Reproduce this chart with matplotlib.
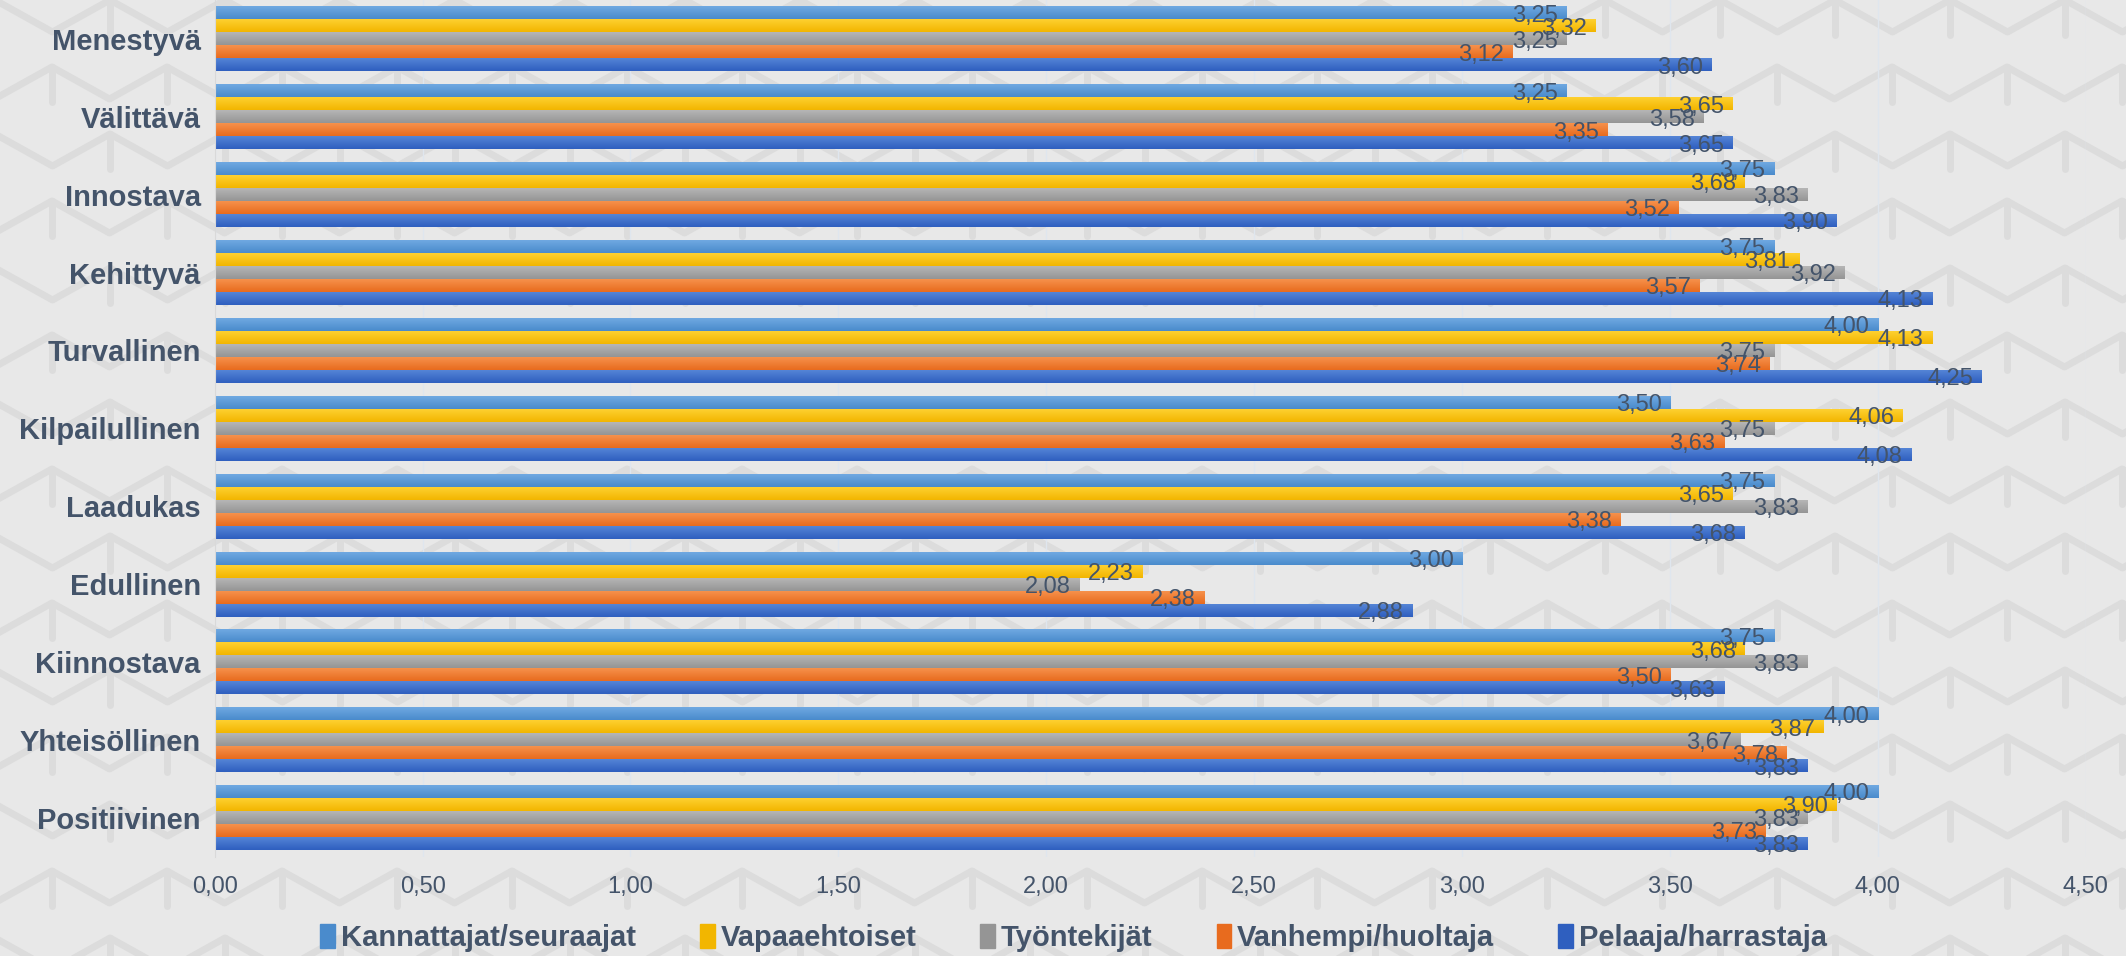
import numpy as np
import matplotlib.pyplot as plt
from matplotlib.colors import LinearSegmentedColormap

categories = ["Menestyvä", "Välittävä", "Innostava", "Kehittyvä", "Turvallinen",
              "Kilpailullinen", "Laadukas", "Edullinen", "Kiinnostava",
              "Yhteisöllinen", "Positiivinen"]
series = ["Kannattajat/seuraajat", "Vapaaehtoiset", "Työntekijät",
          "Vanhempi/huoltaja", "Pelaaja/harrastaja"]
kannattajat = [3.25, 3.25, 3.75, 3.75, 4.00, 3.50, 3.75, 3.00, 3.75, 4.00, 4.00]
vapaaehtoiset = [3.32, 3.65, 3.68, 3.81, 4.13, 4.06, 3.65, 2.23, 3.68, 3.87, 3.90]
tyontekijat = [3.25, 3.58, 3.83, 3.92, 3.75, 3.75, 3.83, 2.08, 3.83, 3.67, 3.83]
vanhempi = [3.12, 3.35, 3.52, 3.57, 3.74, 3.63, 3.38, 2.38, 3.50, 3.78, 3.73]
pelaaja = [3.60, 3.65, 3.90, 4.13, 4.25, 4.08, 3.68, 2.88, 3.63, 3.83, 3.83]
values = [kannattajat, vapaaehtoiset, tyontekijat, vanhempi, pelaaja]

# (top, bottom) gradient colours per series
grads = [("#72abe3", "#4a8bcc"), ("#ffd234", "#f2b600"), ("#b8b8b8", "#959595"),
         ("#f7944f", "#e86b1e"), ("#5787d8", "#2f5fbf")]
text_col = "#44546a"
bg = "#e8e8e8"
font = "Liberation Sans"

fig = plt.figure(figsize=(21.26, 9.56), dpi=100, facecolor=bg)

# background texture: rows of zigzag lines
bgax = fig.add_axes([0, 0, 1, 1], zorder=-1)
bgax.set_xlim(0, 2126)
bgax.set_ylim(956, 0)
bgax.axis("off")
for r in range(-2, 17):
    shift = 57 if r % 2 else 0
    xs = np.arange(-120, 2300, 57.5) + shift
    ys = r * 67 + np.where(np.arange(len(xs)) % 2 == 0, 0, 32)
    bgax.plot(xs, ys, color="#dcdcdc", lw=5, solid_joinstyle="round", zorder=0)
    for k in range(0, len(xs), 2):
        bgax.plot([xs[k], xs[k]], [ys[k], ys[k] + 35], color="#dcdcdc", lw=5,
                  solid_capstyle="round", zorder=0)

ax = fig.add_axes([0.101, 0.104, 0.880, 0.896])
ax.set_facecolor("none")

y = np.arange(len(categories))
h = 0.167
for j, vals in enumerate(values):
    top, bot = grads[j]
    cmap = LinearSegmentedColormap.from_list("g%d" % j, [top, bot])
    bars = ax.barh(y + (j - 2) * h, vals, height=h, color=bot, label=series[j], zorder=2)
    for b, v in zip(bars, vals):
        x0, y0 = b.get_x(), b.get_y()
        im = ax.imshow(np.linspace(0, 1, 50).reshape(-1, 1), cmap=cmap, aspect="auto",
                       extent=(x0, x0 + b.get_width(), y0 + b.get_height(), y0),
                       zorder=2.5, interpolation="bilinear")
        im.set_clip_path(b)
        ax.annotate(f"{v:.2f}".replace(".", ","), (v, y0 + h / 2), xytext=(-6, -2),
                    textcoords="offset points", ha="right", va="center",
                    fontsize=17, color=text_col, family=font, zorder=4)

ax.set_xlim(0, 4.5)
ax.set_ylim(len(categories) - 0.5, -0.5)
ax.set_xticks(np.arange(0, 4.51, 0.5))
ax.set_xticklabels([f"{t:.2f}".replace(".", ",") for t in np.arange(0, 4.51, 0.5)],
                   fontsize=17, color=text_col, family=font)
ax.set_yticks(y)
ax.set_yticklabels(categories, fontsize=21, fontweight="bold", color=text_col, family=font)
ax.tick_params(length=0, pad=14)
ax.tick_params(axis="y", pad=10)
ax.grid(axis="x", color="#dfe6ee", lw=1, zorder=0)
for s in ["top", "right", "bottom"]:
    ax.spines[s].set_visible(False)
ax.spines["left"].set_color("#d9d9d9")

handles = [plt.Rectangle((0, 0), 1, 1, color=g[1]) for g in grads]
leg = fig.legend(handles, series, loc="center", bbox_to_anchor=(0.505, 0.019), ncol=5,
                 frameon=False, handlelength=0.5, handleheight=0.9, handletextpad=0.2,
                 columnspacing=2.2, prop={"family": font, "weight": "bold", "size": 21})
for t in leg.get_texts():
    t.set_color(text_col)

fig.savefig("out.png", dpi=100, facecolor=bg)
